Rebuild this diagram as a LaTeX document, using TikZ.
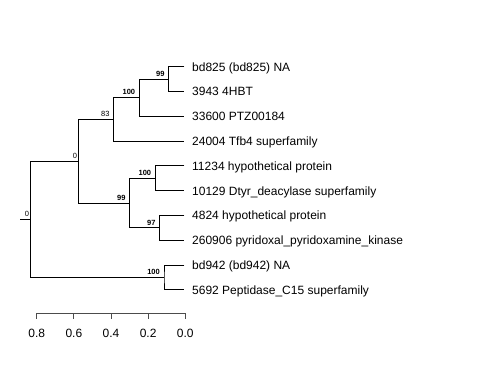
\documentclass[tikz,border=0pt]{standalone}
\usepackage{fontspec}
\setmainfont{Liberation Sans}
\begin{document}
\begin{tikzpicture}[x=1pt,y=-1pt,
  edge/.style={draw=black,line width=1pt},
  axisline/.style={draw=black!70,line width=1pt},
  leaflab/.style={anchor=base west,inner sep=0pt,font=\fontsize{12}{14}\selectfont},
  boot/.style={anchor=east,inner sep=0pt,font=\fontsize{7.5}{9}\selectfont\bfseries},
  supp/.style={anchor=east,inner sep=0pt,font=\fontsize{7.5}{9}\selectfont},
  ticklab/.style={anchor=base,inner sep=0pt,font=\fontsize{12}{14}\selectfont}]
\useasboundingbox (0,0) rectangle (480,384);
% leaf tips
\coordinate (l1) at (184.3,66.70);
\coordinate (l2) at (184.3,91.51);
\coordinate (l3) at (184.3,116.32);
\coordinate (l4) at (184.3,141.13);
\coordinate (l5) at (184.3,165.94);
\coordinate (l6) at (184.3,190.75);
\coordinate (l7) at (184.3,215.56);
\coordinate (l8) at (184.3,240.37);
\coordinate (l9) at (184.3,265.18);
\coordinate (l10) at (184.3,289.99);
% internal nodes
\coordinate (D) at (168.7,79.10);
\coordinate (C) at (139.3,97.71);
\coordinate (B) at (113.7,119.42);
\coordinate (F) at (155.3,178.35);
\coordinate (G) at (159.7,227.97);
\coordinate (E) at (129.7,203.16);
\coordinate (A) at (78.7,161.29);
\coordinate (H) at (164.0,277.59);
\coordinate (R) at (30.7,219.44);
\coordinate (stub) at (20.3,219.44);
% edges
\draw[edge] (l1) -| (D) |- (l2);
\draw[edge] (D) -| (C) |- (l3);
\draw[edge] (C) -| (B) |- (l4);
\draw[edge] (l5) -| (F) |- (l6);
\draw[edge] (l7) -| (G) |- (l8);
\draw[edge] (F) -| (E) |- (G);
\draw[edge] (B) -| (A) |- (E);
\draw[edge] (l9) -| (H) |- (l10);
\draw[edge] (A) -| (R) |- (H);
\draw[edge] (stub) -- (R);
% leaf labels
\node[leaflab] (t1) at ([xshift=7.7pt,yshift=-4.3pt]l1) {bd825 (bd825) NA};
\node[leaflab] (t2) at ([xshift=7.7pt,yshift=-4.3pt]l2) {3943 4HBT};
\node[leaflab] (t3) at ([xshift=7.7pt,yshift=-4.3pt]l3) {33600 PTZ00184};
\node[leaflab] (t4) at ([xshift=7.7pt,yshift=-4.3pt]l4) {24004 Tfb4 superfamily};
\node[leaflab] (t5) at ([xshift=7.7pt,yshift=-4.3pt]l5) {11234 hypothetical protein};
\node[leaflab] (t6) at ([xshift=7.7pt,yshift=-4.3pt]l6) {10129 Dtyr\_deacylase superfamily};
\node[leaflab] (t7) at ([xshift=7.7pt,yshift=-4.3pt]l7) {4824 hypothetical protein};
\node[leaflab] (t8) at ([xshift=7.7pt,yshift=-4.3pt]l8) {260906 pyridoxal\_pyridoxamine\_kinase};
\node[leaflab] (t9) at ([xshift=7.7pt,yshift=-4.3pt]l9) {bd942 (bd942) NA};
\node[leaflab] (t10) at ([xshift=7.7pt,yshift=-4.3pt]l10) {5692 Peptidase\_C15 superfamily};
% support labels
\node[boot] (sD) at ([xshift=-4pt,yshift=5.5pt]D) {99};
\node[boot] (sC) at ([xshift=-4pt,yshift=5.5pt]C) {100};
\node[supp] (sB) at ([xshift=-4pt,yshift=5.5pt]B) {83};
\node[boot] (sF) at ([xshift=-4pt,yshift=5.5pt]F) {100};
\node[boot] (sG) at ([xshift=-4pt,yshift=5.5pt]G) {97};
\node[boot] (sE) at ([xshift=-4pt,yshift=5.5pt]E) {99};
\node[supp] (sA) at ([xshift=-1.5pt,yshift=5.5pt]A) {0};
\node[boot] (sH) at ([xshift=-4pt,yshift=5.5pt]H) {100};
\node[supp] (sR) at ([xshift=-1.5pt,yshift=5.5pt]R) {0};
% axis
\coordinate (a8) at (36.7,313.3);
\coordinate (a6) at (73.85,313.3);
\coordinate (a4) at (111.0,313.3);
\coordinate (a2) at (148.15,313.3);
\coordinate (a0) at (185.3,313.3);
\draw[axisline] (a8) -- (a0);
\foreach \t in {a8,a6,a4,a2,a0} \draw[axisline] (\t) -- ++(0,5.2);
\node[ticklab] (x8) at ([yshift=-24pt]a8) {0.8};
\node[ticklab] (x6) at ([yshift=-24pt]a6) {0.6};
\node[ticklab] (x4) at ([yshift=-24pt]a4) {0.4};
\node[ticklab] (x2) at ([yshift=-24pt]a2) {0.2};
\node[ticklab] (x0) at ([yshift=-24pt]a0) {0.0};
\end{tikzpicture}
\end{document}
